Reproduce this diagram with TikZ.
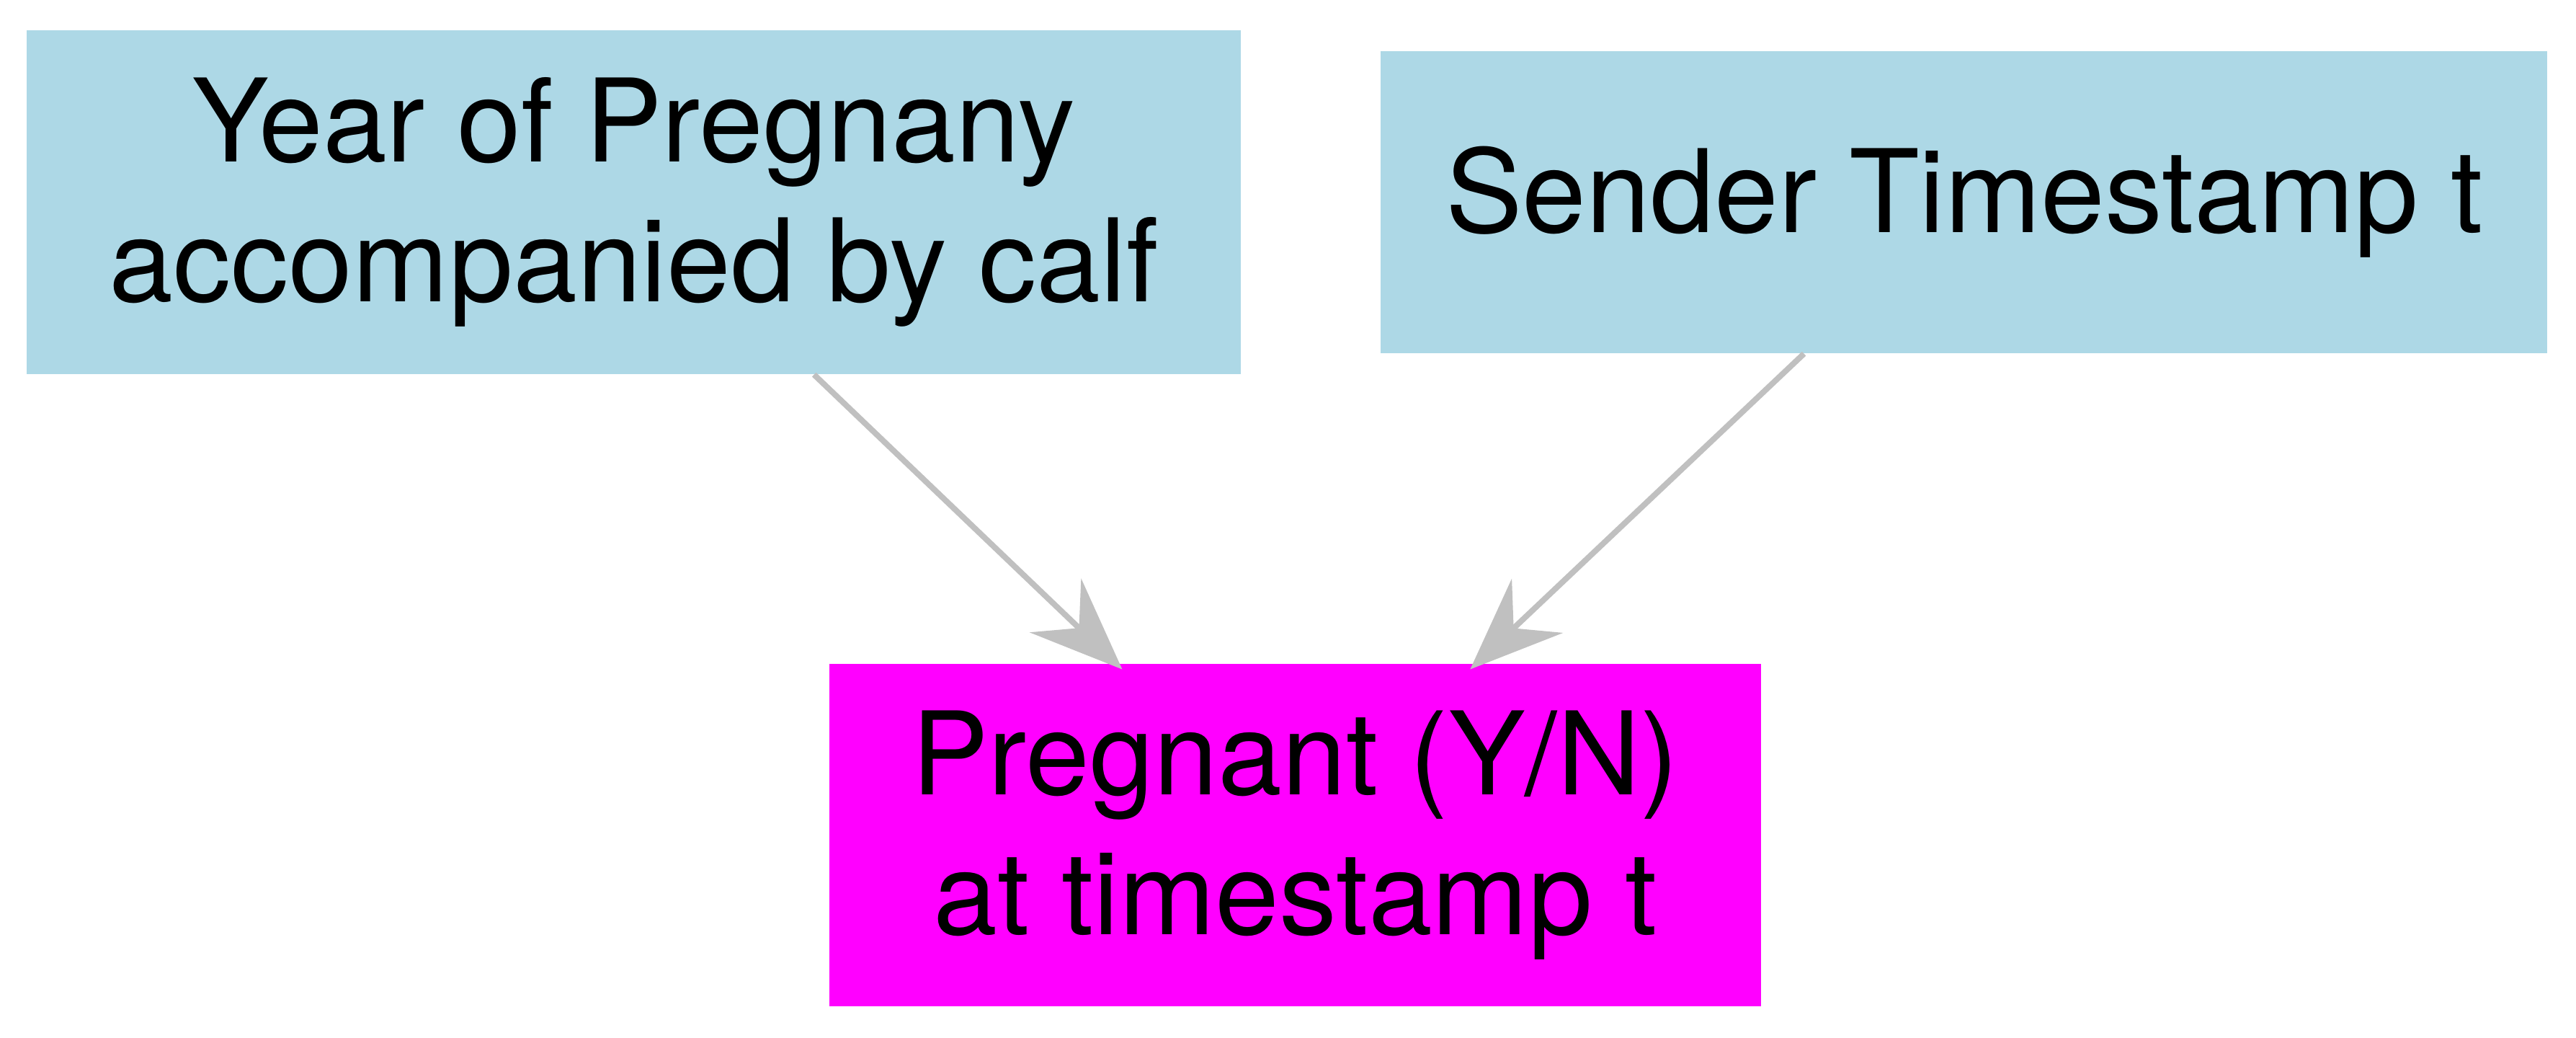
\documentclass[tikz,border=0pt]{standalone}
\usepackage{fontspec}
\setmainfont{TeX Gyre Heros}
\usepackage{tikz}
\usetikzlibrary{positioning}
\usetikzlibrary{arrows.meta}
\definecolor{boxblue}{RGB}{173,216,230}
\definecolor{boxmagenta}{RGB}{255,0,255}
\definecolor{edgegray}{RGB}{192,192,192}
\tikzstyle{line} = [draw=edgegray, line width=0.08cm, -{Stealth[length=1.28cm, width=1.03cm, inset=0.45cm]}]

\begin{document}
\begin{tikzpicture}[internal/.style={rectangle, inner sep=0pt, font=\fontsize{45.5}{55}\selectfont},
			every text node part/.style={align=center}]
			\useasboundingbox (0,0) rectangle (35.75,14.4);
			\node[internal, fill=boxblue, minimum width=16.85cm, minimum height=4.77cm](year) at (8.795, 11.595) {Year of Pregnany\\accompanied by calf};
			\node[internal, fill=boxblue, minimum width=16.19cm, minimum height=4.19cm, right=1.93cm of year](sender) {Sender Timestamp t};
			
			\node[internal, fill=boxmagenta, minimum width=12.93cm, minimum height=4.75cm](pregnant) at (17.975, 2.815) {Pregnant (Y/N)\\at timestamp t};
			
			\draw[line, shorten >=-0.12cm] (year) -- (pregnant);
			\draw[line, shorten >=-0.12cm] (sender) -- (pregnant);
			
		\end{tikzpicture}
\end{document}
